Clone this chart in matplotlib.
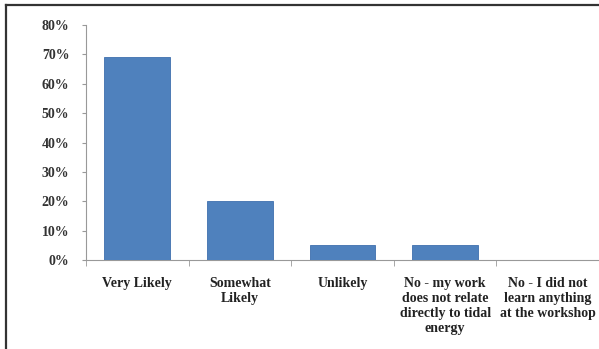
import matplotlib
matplotlib.use("Agg")
import matplotlib.pyplot as plt
from matplotlib.lines import Line2D
from matplotlib.ticker import PercentFormatter

categories = ["Very Likely", "Somewhat\nLikely", "Unlikely",
              "No - my work\ndoes not relate\ndirectly to tidal\nenergy",
              "No - I did not\nlearn anything\nat the workshop"]
values = [0.69, 0.20, 0.05, 0.05, 0.0]
yticks = [0, 0.1, 0.2, 0.3, 0.4, 0.5, 0.6, 0.7, 0.8]

font = "Liberation Serif"
fig = plt.figure(figsize=(5.99, 3.49), dpi=100)
ax = fig.add_axes([86/599, 1-260/349, 1-86/599, (260-25)/349])

x = list(range(len(categories)))
ax.bar(x, values, width=0.64, color="#4F81BD", edgecolor="#3f6fae", linewidth=0.6, zorder=3)
ax.set_xlim(-0.5, 4.5)
ax.set_ylim(0, 0.8)
ax.set_yticks(yticks)
ax.yaxis.set_major_formatter(PercentFormatter(1.0, decimals=0))
ax.set_xticks(x)
ax.set_xticklabels(categories, fontfamily=font, fontweight="bold", fontsize=10, linespacing=1.2)
ax.set_xticks([i + 0.5 for i in range(-1, 5)], minor=True)
for lab in ax.get_yticklabels():
    lab.set_fontfamily(font)
    lab.set_fontweight("bold")
    lab.set_fontsize(10)
    lab.set_color("#333333")
for lab in ax.get_xticklabels():
    lab.set_color("#222222")
ax.tick_params(axis="x", which="major", length=0, pad=12)
ax.tick_params(axis="x", which="minor", length=4, color="#999999", direction="out")
ax.tick_params(axis="y", length=3, color="#999999", pad=9)
for s in ["top", "right"]:
    ax.spines[s].set_visible(False)
ax.spines["left"].set_color("#999999")
ax.spines["bottom"].set_color("#999999")

fig.add_artist(Line2D([6/599, 6/599], [0, 1-5/349], transform=fig.transFigure, color="#333333", lw=1.6))
fig.add_artist(Line2D([6/599, 1], [1-5/349, 1-5/349], transform=fig.transFigure, color="#333333", lw=1.6))

fig.savefig("out.png", dpi=100)
